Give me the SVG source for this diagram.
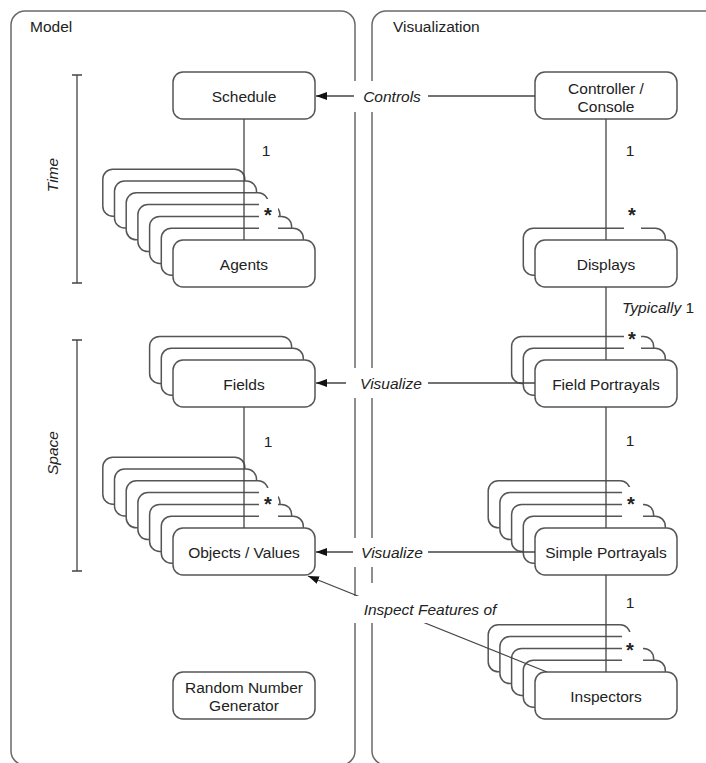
<svg xmlns="http://www.w3.org/2000/svg" width="706" height="763" viewBox="0 0 706 763">
  <style>
    text { font-family: "Liberation Sans", Arial, sans-serif; font-size: 15.5px; fill: #222; }
    .c { text-anchor: middle; dominant-baseline: central; }
    .it { font-style: italic; }
    .panel { fill: none; stroke: #6a6a6a; stroke-width: 1.5; }
    .box { fill: #fff; stroke: #555; stroke-width: 1.5; }
    .line { fill: none; stroke: #444; stroke-width: 1.3; }
    .gap { fill: #fff; stroke: none; }
    .star { font-weight: bold; font-size: 20px; }
  </style>
  <defs>
    <marker id="arr" markerWidth="11" markerHeight="8" refX="11" refY="4" orient="auto" markerUnits="userSpaceOnUse">
      <path d="M0,0 L11,4 L0,8 z" fill="#111"/>
    </marker>
  </defs>

  <rect width="706" height="763" fill="#fff"/>

  <!-- panels -->
  <g id="model-panel">
    <rect class="panel" x="11" y="11" width="344" height="754" rx="14"/>
    <text x="30" y="32">Model</text>
  </g>
  <g id="visualization-panel">
    <rect class="panel" x="372" y="11" width="400" height="754" rx="14"/>
    <text x="393" y="32">Visualization</text>
  </g>

  <!-- time / space brackets -->
  <g id="time-bracket">
    <path class="line" d="M77,75 V283 M72,75 H82 M72,283 H82"/>
    <text class="c it" transform="translate(52,175) rotate(-90)">Time</text>
  </g>
  <g id="space-bracket">
    <path class="line" d="M77,340 V571 M72,340 H82 M72,571 H82"/>
    <text class="c it" transform="translate(52,453) rotate(-90)">Space</text>
  </g>

  <!-- model nodes -->
  <g id="schedule">
    <rect class="box" x="173" y="72" width="142" height="47" rx="10"/>
    <text class="c" x="244" y="96">Schedule</text>
  </g>
  <g id="agents">
    <rect class="box" x="102.8" y="169.2" width="142" height="47" rx="10"/>
    <rect class="box" x="114.5" y="181" width="142" height="47" rx="10"/>
    <rect class="box" x="126.2" y="192.8" width="142" height="47" rx="10"/>
    <rect class="box" x="137.9" y="204.6" width="142" height="47" rx="10"/>
    <rect class="box" x="149.6" y="216.4" width="142" height="47" rx="10"/>
    <rect class="box" x="161.3" y="228.2" width="142" height="47" rx="10"/>
    <rect class="box" x="173" y="240" width="142" height="47" rx="10"/>
    <text class="c" x="244" y="264">Agents</text>
  </g>
  <g id="fields">
    <rect class="box" x="149.6" y="336.4" width="142" height="47" rx="10"/>
    <rect class="box" x="161.3" y="348.2" width="142" height="47" rx="10"/>
    <rect class="box" x="173" y="360" width="142" height="47" rx="10"/>
    <text class="c" x="244" y="384">Fields</text>
  </g>
  <g id="objects-values">
    <rect class="box" x="102.8" y="457.2" width="142" height="47" rx="10"/>
    <rect class="box" x="114.5" y="469" width="142" height="47" rx="10"/>
    <rect class="box" x="126.2" y="480.8" width="142" height="47" rx="10"/>
    <rect class="box" x="137.9" y="492.6" width="142" height="47" rx="10"/>
    <rect class="box" x="149.6" y="504.4" width="142" height="47" rx="10"/>
    <rect class="box" x="161.3" y="516.2" width="142" height="47" rx="10"/>
    <rect class="box" x="173" y="528" width="142" height="47" rx="10"/>
    <text class="c" x="244" y="552">Objects / Values</text>
  </g>
  <g id="random-number-generator">
    <rect class="box" x="173" y="672" width="142" height="47" rx="10"/>
    <text class="c" x="244" y="687">Random Number</text>
    <text class="c" x="244" y="705">Generator</text>
  </g>

  <!-- visualization nodes -->
  <g id="controller-console">
    <rect class="box" x="535" y="72" width="142" height="47" rx="10"/>
    <text class="c" x="606" y="88">Controller /</text>
    <text class="c" x="606" y="106">Console</text>
  </g>
  <g id="displays">
    <rect class="box" x="523.3" y="228.2" width="142" height="47" rx="10"/>
    <rect class="box" x="535" y="240" width="142" height="47" rx="10"/>
    <text class="c" x="606" y="264">Displays</text>
  </g>
  <g id="field-portrayals">
    <rect class="box" x="511.6" y="336.4" width="142" height="47" rx="10"/>
    <rect class="box" x="523.3" y="348.2" width="142" height="47" rx="10"/>
    <rect class="box" x="535" y="360" width="142" height="47" rx="10"/>
    <text class="c" x="606" y="384">Field Portrayals</text>
  </g>
  <g id="simple-portrayals">
    <rect class="box" x="488.2" y="480.8" width="142" height="47" rx="10"/>
    <rect class="box" x="499.9" y="492.6" width="142" height="47" rx="10"/>
    <rect class="box" x="511.6" y="504.4" width="142" height="47" rx="10"/>
    <rect class="box" x="523.3" y="516.2" width="142" height="47" rx="10"/>
    <rect class="box" x="535" y="528" width="142" height="47" rx="10"/>
    <text class="c" x="606" y="552">Simple Portrayals</text>
  </g>
  <g id="inspectors">
    <rect class="box" x="488.2" y="624.8" width="142" height="47" rx="10"/>
    <rect class="box" x="499.9" y="636.6" width="142" height="47" rx="10"/>
    <rect class="box" x="511.6" y="648.4" width="142" height="47" rx="10"/>
    <rect class="box" x="523.3" y="660.2" width="142" height="47" rx="10"/>
    <rect class="box" x="535" y="672" width="142" height="47" rx="10"/>
    <text class="c" x="606" y="696">Inspectors</text>
  </g>

  <!-- connectors -->
  <g id="connectors">
    <!-- associations -->
    <line class="line" x1="244" y1="119" x2="244" y2="240"/>
    <line class="line" x1="244" y1="407" x2="244" y2="528"/>
    <line class="line" x1="606" y1="119" x2="606" y2="240"/>
    <line class="line" x1="606" y1="287" x2="606" y2="360"/>
    <line class="line" x1="606" y1="407" x2="606" y2="528"/>
    <line class="line" x1="606" y1="575" x2="606" y2="672"/>

    <!-- dependencies across panels -->
    <line class="line" x1="535" y1="96" x2="316" y2="96" marker-end="url(#arr)"/>
    <line class="line" x1="535" y1="383" x2="316" y2="383" marker-end="url(#arr)"/>
    <line class="line" x1="535" y1="552" x2="316" y2="552" marker-end="url(#arr)"/>
    <line class="line" x1="547" y1="672" x2="308" y2="576" marker-end="url(#arr)"/>

    <!-- label backgrounds break the lines and panel borders -->
    <rect class="gap" x="354" y="81" width="74" height="31"/>
    <rect class="gap" x="346" y="368" width="82" height="30"/>
    <rect class="gap" x="353" y="538" width="75" height="29"/>
    <rect class="gap" x="353" y="596" width="150" height="27"/>
    <rect class="gap" x="360" y="583" width="20" height="16"/>

    <text class="c it" x="392" y="96">Controls</text>
    <text class="c it" x="391" y="383">Visualize</text>
    <text class="c it" x="392" y="552">Visualize</text>
    <text class="c it" x="430" y="609">Inspect Features of</text>

    <!-- multiplicities -->
    <text class="c" x="266" y="150">1</text>
    <text class="c" x="268" y="441">1</text>
    <text class="c" x="630" y="150">1</text>
    <text class="c" x="630" y="440">1</text>
    <text class="c" x="630" y="602">1</text>
    <text x="622" y="313"><tspan class="it">Typically</tspan> 1</text>

    <rect class="gap" x="259" y="199" width="19" height="34"/>
    <rect class="gap" x="259" y="488" width="19" height="34"/>
    <rect class="gap" x="624" y="200" width="17" height="34"/>
    <rect class="gap" x="624" y="326" width="17" height="27"/>
    <rect class="gap" x="622" y="487" width="21" height="34"/>
    <rect class="gap" x="622" y="632" width="21" height="34"/>

    <text class="c star" x="268" y="215">*</text>
    <text class="c star" x="268" y="504">*</text>
    <text class="c star" x="632" y="215">*</text>
    <text class="c star" x="632" y="339">*</text>
    <text class="c star" x="631" y="504">*</text>
    <text class="c star" x="630" y="650">*</text>
  </g>
</svg>
